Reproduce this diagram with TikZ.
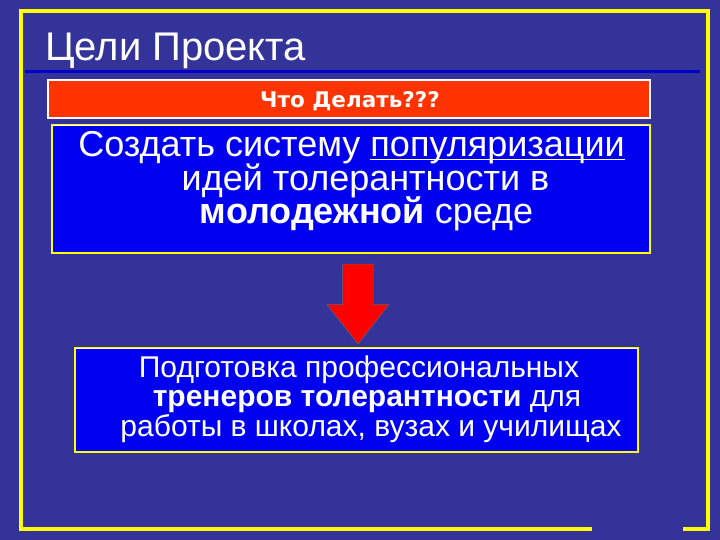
\documentclass[tikz,border=0pt]{standalone}
\usepackage{fontspec}
\setmainfont{Liberation Sans}
\newfontfamily\dejavub{DejaVu Sans}
\newsavebox\myulbox
\newcommand\myul[1]{\sbox\myulbox{#1}\rlap{\rule[-3.5pt]{\wd\myulbox}{1.6pt}}\usebox\myulbox}
\definecolor{bg}{HTML}{333399}
\definecolor{framey}{HTML}{FFFF00}
\definecolor{rulebl}{HTML}{0000CC}
\definecolor{redbox}{HTML}{FF3300}
\definecolor{bluebox}{HTML}{0000F0}
\definecolor{arrred}{HTML}{FF0000}
\tikzset{
  panel/.style={draw=framey, line width=2.5pt, fill=bluebox, inner sep=0pt},
  headbar/.style={draw=white, line width=1.5pt, fill=redbox, inner sep=0pt},
  bigtxt/.style={anchor=base, text=white, inner sep=0pt, font=\fontsize{36}{36}\selectfont},
  midtxt/.style={anchor=base, text=white, inner sep=0pt, font=\fontsize{30}{30}\selectfont},
}
\begin{document}
\begin{tikzpicture}[x=1pt,y=-1pt]
\useasboundingbox (0,0) rectangle (720,540);
\fill[bg] (0,0) rectangle (720,540);
% frame
\draw[framey, line width=4.5pt, line join=miter] (592,529) -| (21,11) -| (708,529) -- (683,529);
% title
\node[anchor=base west, text=white, inner sep=0pt, font=\fontsize{40}{40}\selectfont] (title) at (45,61) {Цели Проекта};
\draw[rulebl, line width=3pt] (25,72) -- (700,72);
% red header bar
\node[headbar, minimum width=602pt, minimum height=38pt] (bar) at (349,99) {};
\node[anchor=base, text=white, inner sep=0pt, font=\dejavub\bfseries\fontsize{21.5}{21.5}\selectfont] (bartxt) at (350,107.5) {Что Делать???};
% box 1
\node[panel, minimum width=598pt, minimum height=128pt] (box1) at (351,189) {};
\draw[white, line width=0.8pt] ([xshift=1.5pt,yshift=-1.5pt]box1.north west) -- ([xshift=-1.5pt,yshift=-1.5pt]box1.north east);
\node[bigtxt] (l1a) at (351.5,157) {Создать систему \myul{популяризации}};
\node[bigtxt] (l1b) at (365.5,191) {идей толерантности в};
\node[bigtxt] (l1c) at (366.5,223) {\textbf{молодежной} среде};
% arrow
\path[fill=arrred, draw=black!60, line width=0.5pt]
  (342.5,264) -- (373,264) -- (373,304.5) -- (389,304.5) -- (358,344) -- (327,304.5) -- (342.5,304.5) -- cycle;
% box 2
\node[panel, minimum width=563pt, minimum height=104pt] (box2) at (356.5,400) {};
\draw[white, line width=0.8pt] ([xshift=1.5pt,yshift=-1.5pt]box2.north west) -- ([xshift=-1.5pt,yshift=-1.5pt]box2.north east);
\node[midtxt] (l2a) at (359,377) {Подготовка профессиональных};
\node[midtxt] (l2b) at (367,406) {\textbf{тренеров толерантности} для};
\node[midtxt] (l2c) at (371,436) {работы в школах, вузах и училищах};
\end{tikzpicture}
\end{document}
